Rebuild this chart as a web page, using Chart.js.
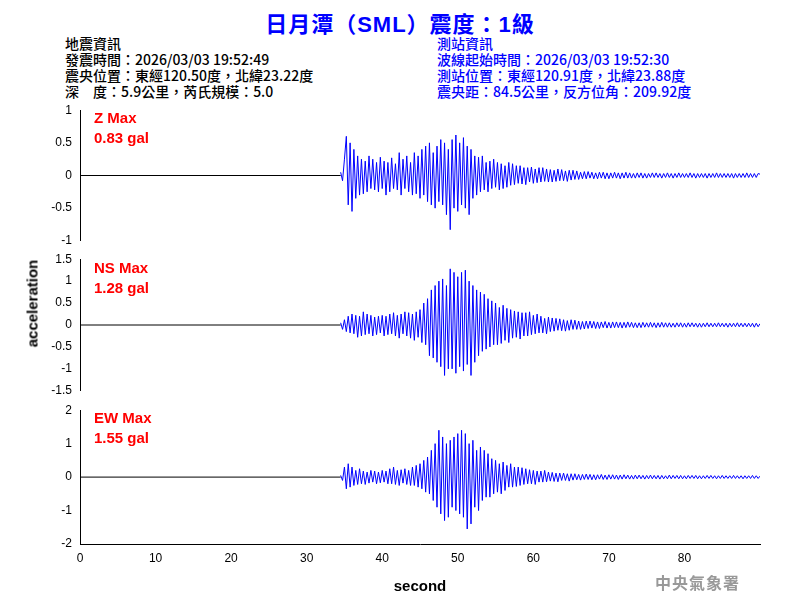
<!DOCTYPE html>
<html><head><meta charset="utf-8">
<script src="https://cdn.jsdelivr.net/npm/chart.js@4/dist/chart.umd.min.js"></script>
<style>
body{margin:0;width:800px;height:600px;background:#fff;position:relative;overflow:hidden;font-family:"Noto Sans CJK TC",sans-serif}
.box{position:absolute;left:0;width:800px}
.t{position:absolute;white-space:pre;font-size:14px;line-height:16px}
.r{position:absolute;color:#f00;font:bold 15px Arial,"Liberation Sans";line-height:20px}
</style></head><body>
<div class="t" style="left:0;width:800px;top:6px;text-align:center;color:#0000ff;font:bold 22px Arial,'Noto Sans CJK TC';letter-spacing:1px">日月潭（SML）震度：1級</div>
<div class="t" style="left:65px;top:35px;color:#000;font-weight:500">地震資訊
發震時間：2026/03/03 19:52:49
震央位置：東經120.50度，北緯23.22度
深　度：5.9公里，芮氏規模：5.0</div>
<div class="t" style="left:437px;top:35px;color:#0000ff;font-weight:500">測站資訊
波線起始時間：2026/03/03 19:52:30
測站位置：東經120.91度，北緯23.88度
震央距：84.5公里，反方位角：209.92度</div>
<div class="box" style="top:100px;height:151px"><canvas id="c1"></canvas></div>
<div class="box" style="top:249px;height:152px"><canvas id="c2"></canvas></div>
<div class="box" style="top:400px;height:200px"><canvas id="c3"></canvas></div>
<div class="r" style="left:94px;top:108px">Z Max<br>0.83 gal</div>
<div class="r" style="left:94px;top:258px">NS Max<br>1.28 gal</div>
<div class="r" style="left:94px;top:408px">EW Max<br>1.55 gal</div>
<div class="t" style="left:-18px;top:295px;font:bold 15px Arial;transform:rotate(-90deg);transform-origin:50% 50%;width:100px;text-align:center">acceleration</div>
<div class="t" style="left:655px;top:570px;color:#999;font:bold 16px 'Noto Sans CJK TC';letter-spacing:1px">中央氣象署</div>
<script>
const startTime=34.5, sampleStep=0.25, quietEnd=34.5;
const xTicks=[0,10,20,30,40,50,60,70,80];
const zVals=[0.05,-0.08,
0.25,0.6,-0.45,0.5, -0.55,0.4,-0.35,0.3, -0.3,0.25,-0.28,0.22, -0.25,0.3,-0.2,0.25, -0.22,0.2,-0.25,0.28,
-0.2,0.22,-0.3,0.2, -0.25,0.27,-0.2,0.18, -0.22,0.35,-0.3,0.25, -0.2,0.3,-0.25,0.2, -0.3,0.35,-0.28,0.3,
-0.35,0.4,-0.3,0.45, -0.4,0.5,-0.45,0.35, -0.5,0.45,-0.4,0.55, -0.45,0.5,-0.6,0.4, -0.83,0.55,-0.5,0.62,
-0.55,0.5,-0.45,0.58, -0.5,0.45,-0.6,0.4, -0.35,0.3,-0.3,0.28, -0.25,0.3,-0.22,0.2, -0.25,0.22,-0.2,0.25,
-0.18,0.2,-0.22,0.18, -0.2,0.15,-0.18,0.2, -0.15,0.18,-0.14,0.15, -0.12,0.15,-0.13,0.12, -0.14,0.12,-0.1,0.13,
-0.12,0.1,-0.11,0.12, -0.1,0.12,-0.09,0.1, -0.1,0.09,-0.1,0.08, -0.09,0.1,-0.08,0.09, -0.08,0.07,-0.09,0.08,
-0.07,0.08,-0.06,0.07,
-0.06,0.05,-0.05,0.06, -0.05,0.06,-0.04,0.05, -0.05,0.04,-0.05,0.05, -0.04,0.05,-0.05,0.04, -0.05,0.04,-0.04,0.05,
-0.04,0.04,-0.05,0.04, -0.04,0.05,-0.04,0.04, -0.04,0.03,-0.04,0.04, -0.03,0.04,-0.04,0.03, -0.04,0.03,-0.03,0.04,
-0.03,0.04,-0.03,0.03, -0.04,0.03,-0.03,0.04, -0.03,0.03,-0.04,0.03, -0.03,0.04,-0.03,0.03, -0.03,0.03,-0.03,0.04,
-0.03,0.03,-0.04,0.03, -0.03,0.03,-0.03,0.03, -0.04,0.03,-0.03,0.03, -0.03,0.04,-0.03,0.03, -0.03,0.03,-0.03,0.03,
-0.03,0.03,-0.04,0.03, -0.03,0.03,-0.03,0.03, -0.03,0.04,-0.03,0.03, -0.03,0.03,-0.03,0.03, 0.02];
const nsVals=[0.05,-0.1,
0.12,-0.15,0.2,-0.18, 0.25,-0.2,0.22,-0.28, 0.2,-0.25,0.3,-0.22, 0.25,-0.2,0.22,-0.25, 0.18,-0.22,0.2,-0.18,
0.22,-0.25,0.2,-0.22, 0.25,-0.2,0.28,-0.25, 0.22,-0.3,0.25,-0.2, 0.3,-0.25,0.28,-0.3, 0.25,-0.35,0.3,-0.28,
0.35,-0.4,0.5,-0.45, 0.6,-0.7,0.8,-0.75, 0.9,-0.85,1.0,-0.95, 1.05,-1.15,0.9,-1.0, 1.28,-1.0,1.2,-1.1,
1.1,-0.95,1.2,-1.05, 1.25,-0.9,1.0,-1.15, 0.9,-0.85,0.8,-0.7, 0.75,-0.6,0.7,-0.55, 0.6,-0.5,0.55,-0.45,
0.5,-0.45,0.4,-0.42, 0.45,-0.35,0.38,-0.4, 0.35,-0.3,0.32,-0.28, 0.3,-0.32,0.28,-0.25, 0.28,-0.25,0.3,-0.22,
0.22,-0.2,0.25,-0.18, 0.2,-0.18,0.15,-0.2, 0.18,-0.15,0.16,-0.14, 0.15,-0.12,0.14,-0.13, 0.12,-0.14,0.1,-0.12,
0.12,-0.1,0.11,-0.1,
0.09,-0.1,0.08,-0.09, 0.09,-0.08,0.09,-0.07, 0.08,-0.08,0.07,-0.08, 0.07,-0.06,0.08,-0.07, 0.06,-0.07,0.07,-0.06,
0.07,-0.06,0.06,-0.07, 0.06,-0.06,0.07,-0.05, 0.06,-0.06,0.05,-0.06, 0.05,-0.06,0.06,-0.05, 0.05,-0.05,0.06,-0.05,
0.05,-0.06,0.05,-0.05, 0.06,-0.05,0.05,-0.05, 0.05,-0.05,0.04,-0.05, 0.05,-0.04,0.05,-0.05, 0.04,-0.05,0.05,-0.04,
0.05,-0.04,0.04,-0.05, 0.04,-0.05,0.04,-0.04, 0.05,-0.04,0.04,-0.04, 0.04,-0.04,0.05,-0.04, 0.04,-0.04,0.04,-0.05,
0.04,-0.04,0.04,-0.04, 0.05,-0.04,0.04,-0.04, 0.04,-0.04,0.04,-0.04, 0.04,-0.05,0.04,-0.04, 0.03];
const ewVals=[0.05,-0.1,
0.3,-0.35,0.4,-0.3, 0.3,-0.25,0.2,-0.22, 0.25,-0.2,0.18,-0.22, 0.15,-0.18,0.2,-0.15, 0.18,-0.2,0.15,-0.17,
0.2,-0.15,0.18,-0.2, 0.25,-0.2,0.3,-0.22, 0.2,-0.25,0.22,-0.18, 0.25,-0.22,0.2,-0.25, 0.3,-0.25,0.35,-0.3,
0.4,-0.35,0.5,-0.45, 0.6,-0.5,0.8,-0.7, 1.0,-0.9,1.4,-1.1, 1.2,-1.3,1.0,-1.2, 1.1,-0.9,1.2,-1.0,
1.3,-1.1,1.4,-1.2, 1.3,-1.55,1.0,-1.4, 1.1,-0.9,0.8,-1.0, 0.9,-0.7,0.8,-0.6, 0.7,-0.6,0.55,-0.5,
0.5,-0.45,0.4,-0.5, 0.45,-0.4,0.35,-0.3, 0.4,-0.3,0.3,-0.28, 0.3,-0.25,0.28,-0.22, 0.25,-0.2,0.22,-0.2,
0.2,-0.22,0.18,-0.15, 0.18,-0.15,0.2,-0.14, 0.15,-0.12,0.14,-0.13, 0.12,-0.14,0.12,-0.1, 0.12,-0.1,0.1,-0.12,
0.1,-0.09,0.1,-0.08,
0.08,-0.09,0.08,-0.07, 0.09,-0.07,0.08,-0.08, 0.07,-0.08,0.07,-0.06, 0.08,-0.07,0.06,-0.07, 0.07,-0.06,0.07,-0.06,
0.06,-0.07,0.06,-0.06, 0.07,-0.05,0.06,-0.06, 0.05,-0.06,0.06,-0.05, 0.06,-0.05,0.05,-0.06, 0.05,-0.05,0.06,-0.05,
0.05,-0.05,0.05,-0.06, 0.05,-0.05,0.04,-0.05, 0.06,-0.05,0.05,-0.04, 0.05,-0.05,0.05,-0.05, 0.04,-0.05,0.05,-0.04,
0.05,-0.04,0.05,-0.05, 0.04,-0.05,0.04,-0.04, 0.05,-0.04,0.05,-0.04, 0.04,-0.05,0.04,-0.04, 0.05,-0.04,0.04,-0.04,
0.04,-0.04,0.05,-0.04, 0.04,-0.04,0.04,-0.05, 0.04,-0.04,0.04,-0.04, 0.05,-0.04,0.04,-0.04, 0.03];

const tickFont={family:'Arial, "Liberation Sans"',size:12};
function makeChart(id,vals,lim,step,showX){
  const pts=vals.map((v,i)=>({x:startTime+i*sampleStep,y:v}));
  new Chart(document.getElementById(id),{
    type:'line',
    data:{datasets:[
      {data:[{x:0,y:0},{x:quietEnd,y:0}],borderColor:'#000',borderWidth:1,pointRadius:0,tension:0},
      {data:pts,borderColor:'#0000ff',borderWidth:1,pointRadius:0,tension:0}
    ]},
    options:{responsive:true,maintainAspectRatio:false,animation:false,
      layout:{padding:{top:8,bottom:showX?0:8,right:40,left:0}},
      plugins:{legend:{display:false},tooltip:{enabled:false}},
      scales:{
        x:{type:'linear',min:0,max:90,display:showX,
          grid:{display:false,drawTicks:true,tickLength:5,color:'#000'},
          border:{color:'#000',width:1},
          afterBuildTicks:s=>{s.ticks=xTicks.map(v=>({value:v}));},
          afterFit:s=>{if(showX) s.height=56;},
          ticks:{color:'#000',font:tickFont,padding:2,maxRotation:0},
          title:{display:true,text:'second',color:'#000',font:{family:'Arial',size:15,weight:'bold'},padding:{top:4}}},
        y:{min:-lim,max:lim,
          grid:{display:false,tickLength:5},
          border:{color:'#000',width:1},
          afterFit:s=>{s.width=80;},
          ticks:{stepSize:step,autoSkip:false,color:'#000',font:tickFont,padding:3,callback:v=>String(Math.round(v*10)/10)}}
      }}
  });
}
makeChart('c1',zVals,1,0.5,false);
makeChart('c2',nsVals,1.5,0.5,false);
makeChart('c3',ewVals,2,1,true);
</script></body></html>
